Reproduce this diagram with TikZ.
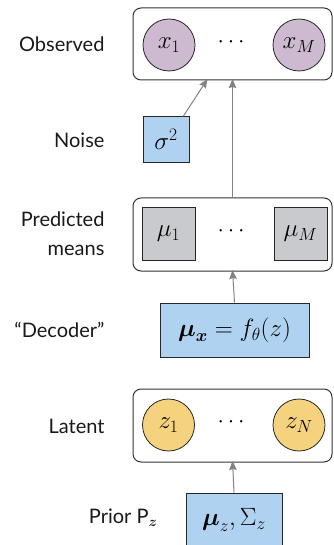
\RequirePackage{fix-cm}
\documentclass[tikz,border=0pt]{standalone}
\usepackage{amsmath}
\usepackage{amssymb}
\usepackage{fontspec}
\setmainfont{Lato}
\usepackage{tikz}
\usetikzlibrary{
  arrows.meta,
  positioning
}
\definecolor{obscol}{RGB}{205,185,208}
\definecolor{latcol}{RGB}{245,210,125}
\definecolor{parcol}{RGB}{175,210,240}
\definecolor{meancol}{RGB}{200,202,205}
\definecolor{tipcol}{RGB}{130,130,130}

\begin{document}
\begin{tikzpicture}[
      x=1pt,y=-1pt,
      plate/.style={
         rectangle,
         rounded corners=8pt,
         line width=1pt,
         draw=black!80
      },
      obsnode/.style={
         circle,
         minimum size=52pt,
         inner sep=0pt,
         line width=0.8pt,
         draw=black!85,
         fill=obscol,
         font=\fontsize{25}{29}\selectfont
      },
      latnode/.style={
         obsnode,
         fill=latcol
      },
      meannode/.style={
         rectangle,
         minimum size=53pt,
         inner sep=0pt,
         line width=0.8pt,
         draw=black!85,
         fill=meancol,
         font=\fontsize{25}{29}\selectfont
      },
      param/.style={
         rectangle,
         minimum height=54pt,
         inner sep=0pt,
         line width=0.8pt,
         draw=black!85,
         fill=parcol,
         font=\fontsize{25}{29}\selectfont
      },
      rowlabel/.style={
         anchor=east,
         align=right,
         text=black!90,
         font=\fontsize{20}{29}\selectfont
      },
      dots/.style={font=\fontsize{23}{27}\selectfont},
      tip/.style={-{Stealth[length=9pt,width=7.5pt,inset=1pt]},draw=tipcol,line width=1pt}
    ]
    \useasboundingbox (0,0) rectangle (333,545);

    % plates
    \node (obs)  [plate, minimum width=199pt, minimum height=72pt] at (232.5,44) {};
    \node (pred) [plate, minimum width=199pt, minimum height=73pt] at (232.5,234.5) {};
    \node (lat)  [plate, minimum width=199pt, minimum height=73pt] at (232.5,425.5) {};

    % observed
    \node (x1) [obsnode] at (169,45) {$x_1$};
    \node (xM) [obsnode] at (299,45) {$x_M$};
    \node (xd) [dots] at (233,42) {$\cdots$};

    % noise
    \node (noise) [param, minimum size=46pt] at (166,139.5) {$\sigma^2$};

    % predicted means
    \node (mu1) [meannode] at (168.5,233.5) {$\mu_1$};
    \node (muM) [meannode] at (300.5,233.5) {$\mu_M$};
    \node (mud) [dots] at (233,231) {$\cdots$};

    % decoder
    \node (dec) [param, minimum width=149pt] at (234.5,330) {$\boldsymbol{\mu}_{\boldsymbol{x}} = f_\theta(z)$};

    % latent
    \node (z1) [latnode] at (168.5,425) {$z_1$};
    \node (zN) [latnode] at (299,425) {$z_N$};
    \node (zd) [dots] at (233,422) {$\cdots$};

    % prior
    \node (prior) [param, minimum width=96pt] at (234,520) {$\boldsymbol{\mu}_z, \Sigma_z$};

    % labels
    \node (lobs)   [rowlabel] at (108,44) {Observed};
    \node (lnoise) [rowlabel] at (108,140) {Noise};
    \node (lpred)  [rowlabel] at (108,234) {Predicted\\means};
    \node (ldec)   [rowlabel] at (108,330) {“Decoder”};
    \node (llat)   [rowlabel] at (108,426) {Latent};
    \node (lprior) [rowlabel] at (161,518) {Prior P$_{\boldsymbol{z}}$};

    % arrows
    \draw[tip] ([xshift=-6pt]noise.north east) -- ([xshift=-25pt,yshift=1.5pt]obs.south);
    \draw[tip] (pred.north) -- ([yshift=1.5pt]obs.south);
    \draw[tip] (dec.north) -- ([yshift=1.5pt]pred.south);
    \draw[tip] (prior.north) -- ([yshift=1.5pt]lat.south);
\end{tikzpicture}
\end{document}
